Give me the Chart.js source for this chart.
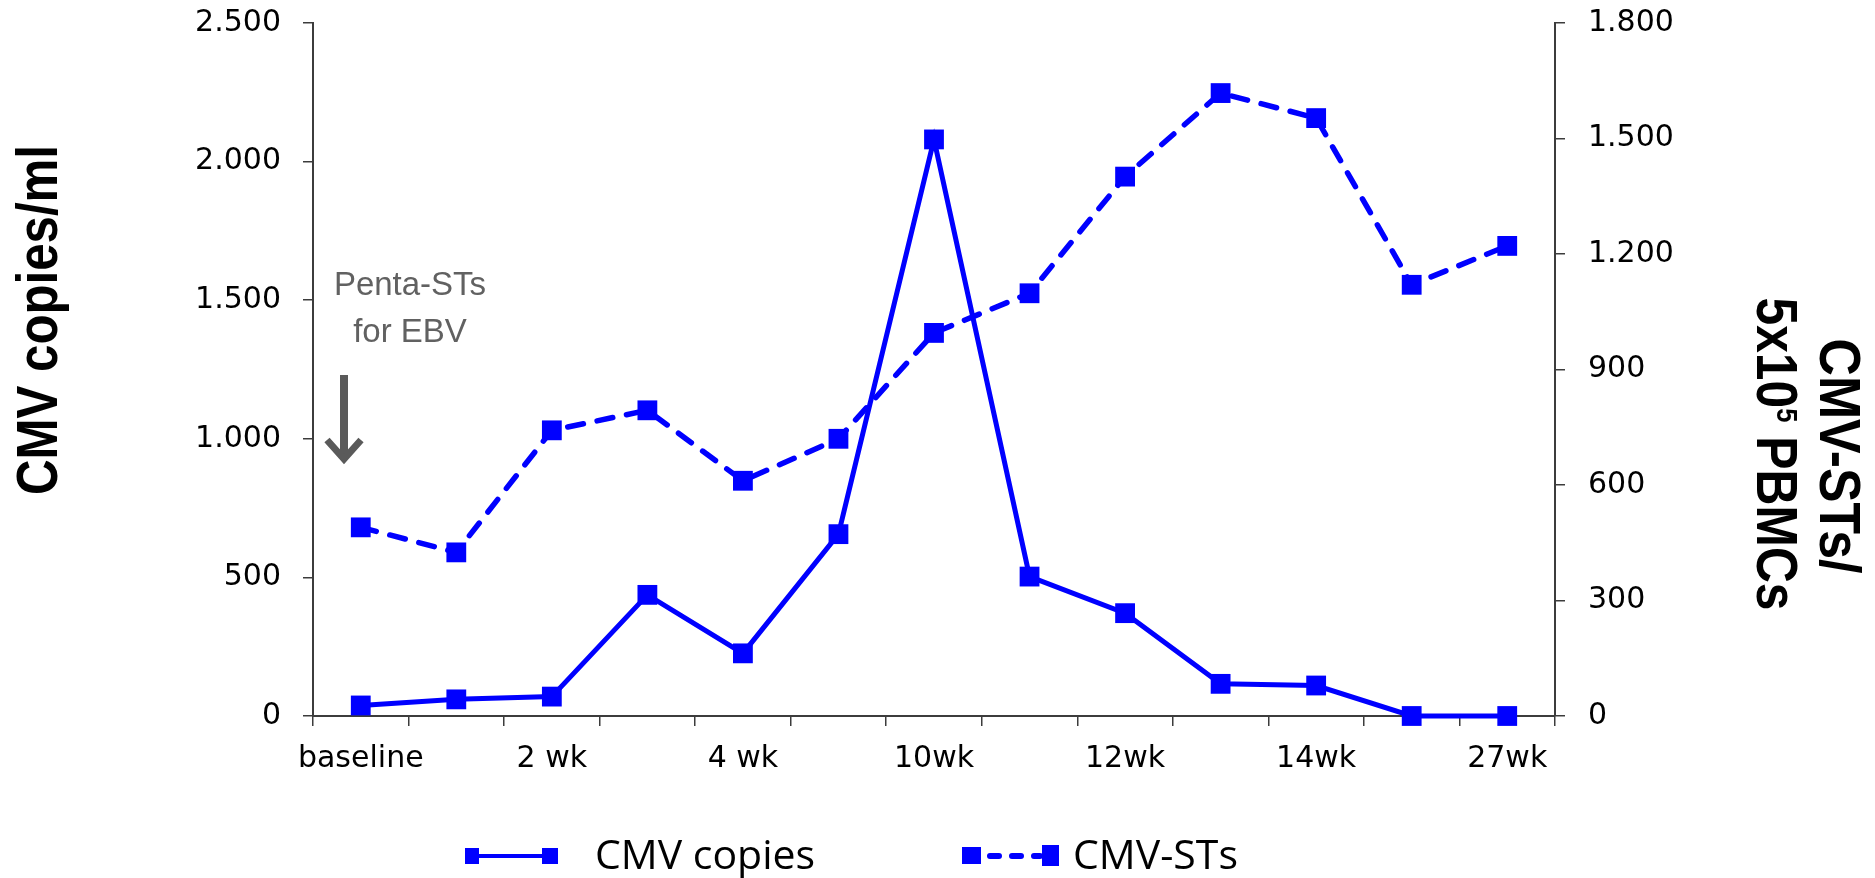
<!DOCTYPE html>
<html>
<head>
<meta charset="utf-8">
<title>CMV copies and CMV-STs</title>
<script src="https://cdn.jsdelivr.net/npm/chart.js@4.4.1/dist/chart.umd.min.js"></script>
<style>
  html, body { margin: 0; padding: 0; background: #fff; }
  #wrap { width: 1875px; height: 878px; position: relative; }
</style>
</head>
<body>
<div id="wrap"><canvas id="myChart"></canvas></div>
<script>
// categories, only every other one has a label
const weeks = ['baseline', '', '2 wk', '', '4 wk', '', '10wk', '', '12wk', '', '14wk', '', '27wk'];
// CMV copies/ml (left axis)
const cmvCopies = [38, 60, 70, 437, 226, 656, 2080, 503, 371, 116, 110, 0, 0];
// CMV-STs / 5x10^5 PBMCs (right axis)
const cmvSTs = [490, 425, 742, 794, 611, 720, 995, 1098, 1401, 1618, 1553, 1120, 1221];
// axis ticks
const leftTicks = [0, 500, 1000, 1500, 2000, 2500];
const rightTicks = [0, 300, 600, 900, 1200, 1500, 1800];

const seriesNames = ['CMV copies', 'CMV-STs'];
const leftTitle = 'CMV copies/ml';
const rightTitle = ['CMV-STs/', '5x10', '5', ' PBMCs'];
const noteText = ['Penta-STs', 'for EBV'];

const blue = '#0000ff';
const axisGrey = '#3c3c3c';
const tickFont = { family: '"DejaVu Sans", sans-serif', size: 30 };

// 2500 -> 2.500
function dots(v) {
  return String(v).replace(/\B(?=(\d{3})+(?!\d))/g, '.');
}

// the titles use a narrow bold face, so squeeze Liberation Sans Bold to the length
function squeezedText(ctx, parts, len) {
  // parts: [text, font, dy]
  let total = 0;
  const widths = parts.map(function (p) {
    ctx.font = p[1];
    const w = ctx.measureText(p[0]).width;
    total += w;
    return w;
  });
  ctx.save();
  ctx.scale(len / total, 1);
  let x = -total / 2;
  parts.forEach(function (p, i) {
    ctx.font = p[1];
    ctx.fillText(p[0], x, p[2]);
    x += widths[i];
  });
  ctx.restore();
}

// fixed axis widths, and no extra room above/below for the tick labels
function fixY(width) {
  return function (scale) {
    scale.width = width;
    scale.paddingTop = 0;
    scale.paddingBottom = 0;
  };
}

/*
 titles, note with arrow and the legend
*/
const extras = {
  id: 'extras',
  afterDraw(chart) {
    const ctx = chart.ctx;
    const area = chart.chartArea;
    const titleFont = 'bold 58px "Liberation Sans", Arial, sans-serif';
    const supFont = 'bold 30px "Liberation Sans", Arial, sans-serif';

    ctx.save();
    ctx.fillStyle = '#000';
    ctx.textBaseline = 'alphabetic';
    ctx.textAlign = 'left';

    // left title
    ctx.save();
    ctx.translate(57, 320);
    ctx.rotate(-Math.PI / 2);
    squeezedText(ctx, [[leftTitle, titleFont, 0]], 350);
    ctx.restore();

    // right title, two lines
    ctx.save();
    ctx.translate(1820, 456);
    ctx.rotate(Math.PI / 2);
    squeezedText(ctx, [[rightTitle[0], titleFont, 0]], 235);
    ctx.restore();

    ctx.save();
    ctx.translate(1757, 454);
    ctx.rotate(Math.PI / 2);
    squeezedText(ctx, [
      [rightTitle[1], titleFont, 0],
      [rightTitle[2], supFont, -20],
      [rightTitle[3], titleFont, 0]
    ], 313);
    ctx.restore();

    // note + arrow
    ctx.fillStyle = '#616161';
    ctx.font = '33px "Liberation Sans", Arial, sans-serif';
    ctx.textAlign = 'center';
    ctx.fillText(noteText[0], area.left + 97, 295);
    ctx.fillText(noteText[1], area.left + 97, 342);

    const ax = area.left + 31;
    ctx.strokeStyle = '#5a5a5a';
    ctx.lineWidth = 8;
    ctx.beginPath();
    ctx.moveTo(ax, 375);
    ctx.lineTo(ax, 458);
    ctx.stroke();
    ctx.lineWidth = 7;
    ctx.beginPath();
    ctx.moveTo(ax - 17, 440);
    ctx.lineTo(ax, 459);
    ctx.lineTo(ax + 17, 440);
    ctx.stroke();

    // legend
    const ly = 856;
    ctx.fillStyle = blue;
    ctx.strokeStyle = blue;
    ctx.lineWidth = 4;
    ctx.beginPath();
    ctx.moveTo(472, ly);
    ctx.lineTo(550, ly);
    ctx.stroke();
    ctx.fillRect(465, ly - 8, 14, 16);
    ctx.fillRect(542, ly - 8, 16, 16);

    ctx.lineWidth = 6;
    ctx.lineCap = 'round';
    ctx.setLineDash([9, 13]);
    ctx.beginPath();
    ctx.moveTo(990, ly);
    ctx.lineTo(1040, ly);
    ctx.stroke();
    ctx.setLineDash([]);
    ctx.fillRect(962, ly - 9, 19, 17);
    ctx.fillRect(1042, ly - 11, 17, 21);

    ctx.fillStyle = '#000';
    ctx.font = '41px "Open Sans", sans-serif';
    ctx.textAlign = 'left';
    ctx.fillText(seriesNames[0], 595, 869);
    ctx.fillText(seriesNames[1], 1073, 869);
    ctx.restore();
  }
};

const ctx = document.getElementById('myChart').getContext('2d');
const chart = new Chart(ctx, {
  type: 'line',
  data: {
    labels: weeks,
    datasets: [{
      label: seriesNames[0],
      data: cmvCopies,
      yAxisID: 'y',
      borderColor: blue,
      backgroundColor: blue,
      borderWidth: 5,
      pointStyle: 'rect',
      pointRadius: 14,
      pointHoverRadius: 14,
      pointBorderWidth: 0,
      tension: 0,
      clip: false
    }, {
      label: seriesNames[1],
      data: cmvSTs,
      yAxisID: 'y1',
      borderColor: blue,
      backgroundColor: blue,
      borderWidth: 5.5,
      borderDash: [16, 14],
      borderCapStyle: 'round',
      pointStyle: 'rect',
      pointRadius: 14,
      pointHoverRadius: 14,
      pointBorderWidth: 0,
      tension: 0,
      clip: false
    }]
  },
  options: {
    responsive: true,
    maintainAspectRatio: false,
    animation: false,
    layout: { padding: { top: 23, left: 0, right: 0, bottom: 0 } },
    plugins: {
      legend: { display: false },
      tooltip: { enabled: false }
    },
    scales: {
      x: {
        offset: true,
        afterFit: function (scale) { scale.height = 162; },
        grid: {
          offset: true,
          drawOnChartArea: false,
          tickLength: 10,
          color: axisGrey,
          lineWidth: 1.5
        },
        border: { color: axisGrey, width: 2 },
        ticks: {
          autoSkip: false,
          maxRotation: 0,
          padding: 15,
          color: '#000',
          font: tickFont
        }
      },
      y: {
        position: 'left',
        min: leftTicks[0],
        max: leftTicks[leftTicks.length - 1],
        afterFit: fixY(313),
        grid: { drawOnChartArea: false, tickLength: 10, color: axisGrey, lineWidth: 1.5 },
        border: { color: axisGrey, width: 2 },
        ticks: {
          stepSize: leftTicks[1] - leftTicks[0],
          padding: 22,
          color: '#000',
          font: tickFont,
          callback: function (v) { return dots(v); }
        }
      },
      y1: {
        position: 'right',
        min: rightTicks[0],
        max: rightTicks[rightTicks.length - 1],
        afterFit: fixY(320),
        grid: { drawOnChartArea: false, tickLength: 10, color: axisGrey, lineWidth: 1.5 },
        border: { color: axisGrey, width: 2 },
        ticks: {
          stepSize: rightTicks[1] - rightTicks[0],
          padding: 23,
          color: '#000',
          font: tickFont,
          callback: function (v) { return dots(v); }
        }
      }
    }
  },
  plugins: [extras]
});
</script>
</body>
</html>
